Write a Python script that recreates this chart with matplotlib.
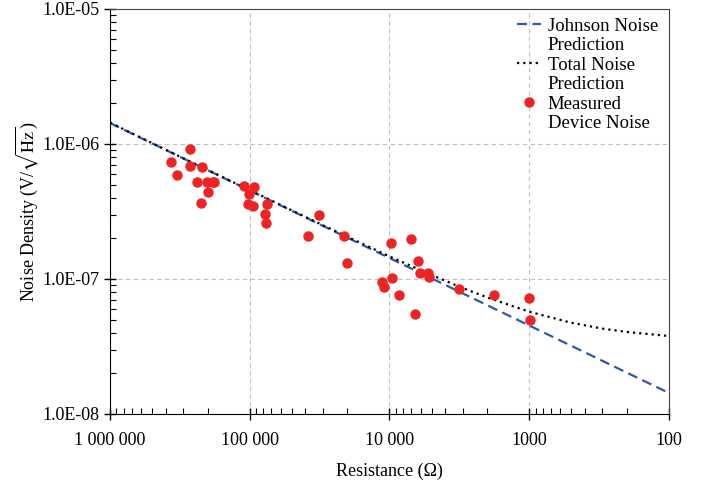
import matplotlib
matplotlib.use("Agg")
import matplotlib.pyplot as plt
from matplotlib.lines import Line2D
from matplotlib.ticker import FixedLocator, FixedFormatter, LogLocator, NullFormatter

plt.rcParams['font.family'] = ['Liberation Serif', 'DejaVu Serif']
plt.rcParams['mathtext.fontset'] = 'stix'

# measured device noise (resistance in ohm, noise density in V/sqrt(Hz))
meas_r = [266300, 364200, 269000, 219600, 333100, 239700, 203200, 180300, 184700,
          198000, 223300, 109900, 93700, 100700, 103400, 94800, 75260, 78200, 76900,
          31800, 38480, 21160, 20240, 9757, 6982, 6283, 6020, 5277, 5190,
          11370, 10900, 9550, 8510, 6600, 3197, 1778, 1000, 990]
meas_n = [9.23e-7, 7.32e-7, 6.87e-7, 6.72e-7, 5.89e-7, 5.23e-7, 5.26e-7, 5.26e-7, 5.19e-7,
          4.43e-7, 3.66e-7, 4.86e-7, 4.78e-7, 4.28e-7, 3.61e-7, 3.46e-7, 3.58e-7, 3.02e-7, 2.59e-7,
          2.96e-7, 2.09e-7, 2.09e-7, 1.31e-7, 1.85e-7, 1.98e-7, 1.37e-7, 1.10e-7, 1.10e-7, 1.035e-7,
          9.55e-8, 8.68e-8, 1.02e-7, 7.65e-8, 5.50e-8, 8.39e-8, 7.65e-8, 7.27e-8, 4.99e-8]

# Johnson noise prediction (straight line on log-log)
johnson_r = [1e6, 100]
johnson_n = [1.43e-6, 1.43e-8]

# total noise prediction
total_r = [1e6, 3e5, 1e5, 3e4, 1e4, 5000, 3000, 2000, 1000, 500, 300, 200, 100]
total_n = [1.44e-6, 7.85e-7, 4.55e-7, 2.50e-7, 1.47e-7, 1.07e-7, 8.58e-8, 7.3e-8,
           5.72e-8, 4.74e-8, 4.29e-8, 4.05e-8, 3.78e-8]

xtick_vals = [1e6, 1e5, 1e4, 1e3, 1e2]
xtick_labels = ['1 000 000', '100 000', '10 000', '1000', '100']
ytick_vals = [1e-8, 1e-7, 1e-6, 1e-5]
ytick_labels = ['1.0E-08', '1.0E-07', '1.0E-06', '1.0E-05']

fig = plt.figure(figsize=(7.12, 4.83), dpi=100)
ax = fig.add_axes([0.1545, 0.1429, 0.7851, 0.8385])

j_line, = ax.plot(johnson_r, johnson_n, color='#3355aa', lw=1.6, ls=(0, (4.5, 2.5)), zorder=3)
t_line, = ax.plot(total_r, total_n, color='black', lw=1.6, ls=(0, (1, 1.8)), zorder=3)
m_pts, = ax.plot(meas_r, meas_n, ls='none', marker='o', ms=6.5, color='#ee2424',
                 mec='#ee2424', zorder=4)

ax.set_xscale('log')
ax.set_yscale('log')
ax.set_xlim(1e6, 100)
ax.set_ylim(1e-8, 1e-5)

ax.xaxis.set_major_locator(FixedLocator(xtick_vals))
ax.xaxis.set_major_formatter(FixedFormatter(xtick_labels))
ax.yaxis.set_major_locator(FixedLocator(ytick_vals))
ax.yaxis.set_major_formatter(FixedFormatter(ytick_labels))
ax.xaxis.set_minor_locator(LogLocator(base=10, subs=range(2, 10)))
ax.yaxis.set_minor_locator(LogLocator(base=10, subs=range(2, 10)))
ax.xaxis.set_minor_formatter(NullFormatter())
ax.yaxis.set_minor_formatter(NullFormatter())

ax.tick_params(which='major', direction='inout', length=8, width=1.0, labelsize=13,
               top=False, right=False)
ax.tick_params(axis='x', which='major', pad=9)
ax.tick_params(which='minor', direction='in', length=4, width=0.8, top=False, right=False)

ax.grid(True, which='major', color='#c0c0c0', ls=(0, (4, 3)), lw=0.8)
for s in ['top', 'right']:
    ax.spines[s].set_color('#444444')

ax.set_xlabel('Resistance (Ω)', fontsize=13, labelpad=10)
ax.set_ylabel(r'Noise Density (V/$\sqrt{\mathrm{Hz}}$)', fontsize=13, labelpad=1)

# legend: handle on the first line of each two-line label
blank = Line2D([], [], ls='none', marker='none')
ax.legend(handles=[j_line, blank, t_line, blank, m_pts, blank],
          labels=['Johnson Noise', 'Prediction', 'Total Noise', 'Prediction',
                  'Measured', 'Device Noise'],
          loc='upper left', bbox_to_anchor=(0.728, 0.978), frameon=False, fontsize=13.5,
          handlelength=1.3, handletextpad=0.35, borderpad=0, labelspacing=0.12,
          borderaxespad=0)

fig.savefig('out.png', dpi=100)
